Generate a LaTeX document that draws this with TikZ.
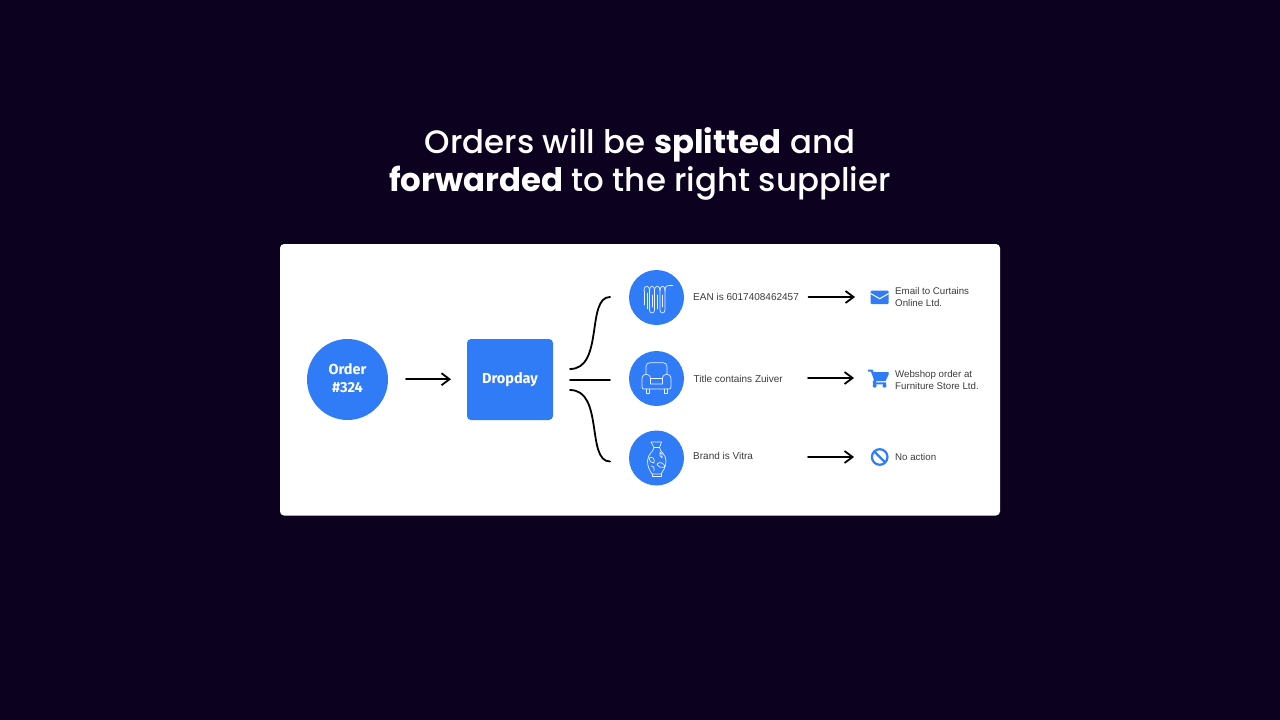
\documentclass[tikz,border=0pt]{standalone}
\usepackage{fontspec}
\setmainfont{Liberation Sans}
\newfontfamily\titlefont[BoldFont={Poppins Bold}]{Poppins Medium}
\newfontfamily\labelfont{Fira Sans}
\usetikzlibrary{arrows.meta}
\definecolor{bgdark}{HTML}{0D0120}
\definecolor{blueA}{HTML}{307BF6}
\definecolor{textgrey}{HTML}{3C3C3C}
\tikzset{
  x=1pt,y=-1pt,
  wire/.style={draw=black,line width=1.8pt,line cap=round},
  arrowline/.style={wire,-{Straight Barb[length=8pt,width=12pt,line width=1.8pt]}},
  bluecircle/.style={circle,fill=blueA,draw=none,inner sep=0pt},
  lab/.style={font=\fontsize{10}{12}\selectfont,text=textgrey,anchor=west,inner sep=0pt,align=left},
  rlab/.style={lab,font=\fontsize{9.7}{11.5}\selectfont},
  bigl/.style={font=\labelfont\bfseries\fontsize{14.5}{17.5}\selectfont,text=white,align=center,inner sep=0pt},
  icon/.style={draw=white,draw opacity=0.9,line width=0.7pt,line cap=round,line join=round,fill=none},
  blueicon/.style={fill=blueA,draw=none}
}
\begin{document}
\begin{tikzpicture}
\useasboundingbox (0,0) rectangle (1280,720);
\fill[bgdark] (0,0) rectangle (1280,720);
\node[font=\titlefont\fontsize{32.4}{38}\selectfont,text=white,align=center,inner sep=0pt] (title) at (640,164)
  {Orders will be \textbf{splitted} and\\\textbf{forwarded} to the right supplier};
\fill[white,rounded corners=4pt] (280,244) rectangle (1000,515.5);

\node[bluecircle,minimum size=81pt] (order) at (347.5,379.5) {};
\node[bigl] (ordertext) at (347.5,378) {Order\\\#324};
\node[fill=blueA,rounded corners=4pt,minimum width=86pt,minimum height=81pt,bigl] (dropday) at (510,379.5) {Dropday};
\node[bluecircle,minimum size=55pt] (c1) at (656.5,297.5) {};
\node[bluecircle,minimum size=55pt] (c2) at (656.5,378.5) {};
\node[bluecircle,minimum size=55pt] (c3) at (656.5,458) {};

\coordinate (a1s) at (406,379.2);\coordinate (a1e) at (451,379.2);
\draw[arrowline] (a1s) -- (a1e);
\coordinate (b1s) at (570,369);\coordinate (b1e) at (610,297);
\coordinate (b2s) at (570,380);\coordinate (b2e) at (610,380);
\coordinate (b3s) at (570,390);\coordinate (b3e) at (610,461.5);
\draw[wire] (b1s) .. controls (604,369) and (586,297) .. (b1e);
\draw[wire] (b2s) -- (b2e);
\draw[wire] (b3s) .. controls (604,390) and (586,461.5) .. (b3e);

\node[lab] (l1) at (693,296.5) {EAN is 6017408462457};
\node[lab] (l2) at (693.5,378.5) {Title contains Zuiver};
\node[lab] (l3) at (693,456) {Brand is Vitra};

\draw[arrowline] (808.5,297) coordinate (a2s) -- (855,297) coordinate (a2e);
\draw[arrowline] (808,378) coordinate (a3s) -- (854,378) coordinate (a3e);
\draw[arrowline] (808,457) coordinate (a4s) -- (854,457) coordinate (a4e);

\node[rlab] (r1) at (895,297) {Email to Curtains\\Online Ltd.};
\node[rlab] (r2) at (895,380) {Webshop order at\\Furniture Store Ltd.};
\node[rlab] (r3) at (895,457) {No action};

% radiator
\draw[icon] (644,291) .. controls (644,284.5) and (649.5,284.5) .. (649.5,291) -- (649.5,310)
  .. controls (649.5,314) and (654.5,314) .. (654.5,310) -- (654.5,291)
  .. controls (654.5,284.5) and (660,284.5) .. (660,291) -- (660,310)
  .. controls (660,314) and (665,314) .. (665,310) -- (665,291)
  .. controls (665,285) and (667,285.5) .. (673,285.5);
\draw[icon] (644,291) -- (644,305);
\draw[icon] (649.5,291) .. controls (649.5,284.5) and (654.5,284.5) .. (654.5,291);
\draw[icon] (660,291) .. controls (660,284.5) and (665,284.5) .. (665,291);
\draw[icon] (647,293) -- (647,309);
\draw[icon] (652,295) -- (652,307);
\draw[icon] (657.3,295) -- (657.3,309);
\draw[icon] (662.5,295) -- (662.5,307);

% armchair
\draw[icon] (646,374) -- (646,366.5) .. controls (646,364) and (648,362.7) .. (650,362.7) -- (663,362.7) .. controls (665,362.7) and (667,364) .. (667,366.5) -- (667,374);
\draw[icon] (642,379) .. controls (642,372.5) and (650.5,372.5) .. (650.5,379) -- (650.5,384) -- (662.5,384) -- (662.5,379) .. controls (662.5,372.5) and (671,372.5) .. (671,379) -- (671,387) .. controls (671,388.5) and (670,389) .. (669,389) -- (644,389) .. controls (643,389) and (642,388.5) .. (642,387) -- cycle;
\draw[icon] (650.5,378) -- (662.5,378);
\draw[icon] (646,389) -- (646,393) -- (649,393) -- (649,389);
\draw[icon] (664,389) -- (664,393) -- (667,393) -- (667,389);

% vase
\draw[icon] (651,442) -- (661.5,442) -- (659.5,447.5) .. controls (660,452) and (666,454) .. (666,461) .. controls (666,467) and (663,471) .. (661,474) -- (652,474) .. controls (650,471) and (647.5,467) .. (647.5,461) .. controls (647.5,454) and (653.5,452) .. (654,447.5) -- cycle;
\draw[icon] (654,447.5) -- (659.5,447.5);
\draw[icon] (652,474) -- (652,476.5) -- (661,476.5) -- (661,474);
\draw[icon] (649,458) .. controls (653,456) and (655,459) .. (654,463) .. controls (651,463) and (649,461) .. (649,458);
\draw[icon] (660,452) .. controls (662,453) and (663,455) .. (662,458) .. controls (660,457) and (659,454) .. (660,452);
\draw[icon] (657,464) .. controls (660,461) and (664,463) .. (665,467) .. controls (661,468) and (658,467) .. (657,464);
\draw[icon] (651,466) .. controls (654,466) and (655,469) .. (654,471);

% envelope
\fill[blueicon,rounded corners=1pt] (870.7,290.7) rectangle (888.7,304);
\draw[white,line width=1pt,line join=miter] (870.7,293.5) -- (879.7,298.7) -- (888.7,293.5);

% cart
\fill[blueicon] (868,369.5) -- (872.5,369.5) -- (873.5,372) -- (888.7,372) -- (888.7,374.5) -- (885.5,381) -- (876.5,381) -- (875.8,382.3) -- (886,382.3) -- (886,384.3) -- (872.8,384.3) -- (872.8,381.5) -- (874,379.8) -- (871,371.7) -- (868,371.7) -- cycle;
\fill[blueicon] (874.7,385.7) circle (2);
\fill[blueicon] (884.5,385.7) circle (2);

% no action
\draw[draw=blueA,line width=2.2pt] (879.7,457) circle (7.8);
\draw[draw=blueA,line width=2.2pt] (874.2,451.5) -- (885.2,462.5);
\end{tikzpicture}
\end{document}
